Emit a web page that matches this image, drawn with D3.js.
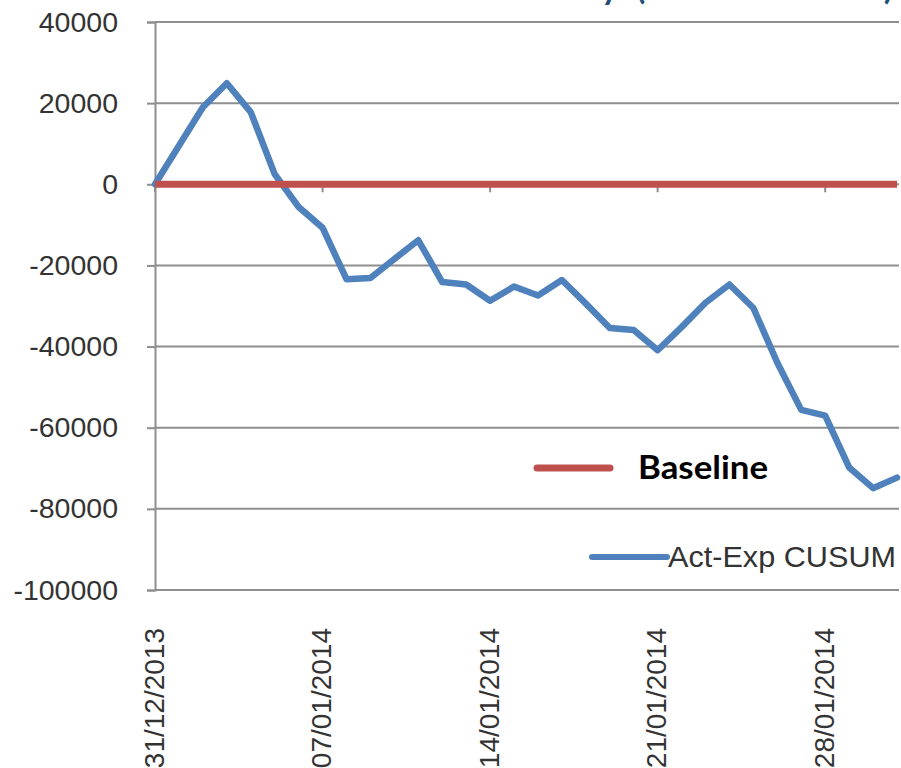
<!DOCTYPE html>
<html>
<head>
<meta charset="utf-8">
<script src="https://cdnjs.cloudflare.com/ajax/libs/d3/7.8.5/d3.min.js"></script>
<style>
  html, body { margin: 0; padding: 0; background: #ffffff; }
  svg { display: block; }
</style>
</head>
<body>
<svg id="chart" width="901" height="768"></svg>
<script>
// Daily categories, 31 Dec 2013 to 31 Jan 2014
const dates = [
  "31/12/2013", "01/01/2014", "02/01/2014", "03/01/2014", "04/01/2014", "05/01/2014",
  "06/01/2014", "07/01/2014", "08/01/2014", "09/01/2014", "10/01/2014", "11/01/2014",
  "12/01/2014", "13/01/2014", "14/01/2014", "15/01/2014", "16/01/2014", "17/01/2014",
  "18/01/2014", "19/01/2014", "20/01/2014", "21/01/2014", "22/01/2014", "23/01/2014",
  "24/01/2014", "25/01/2014", "26/01/2014", "27/01/2014", "28/01/2014", "29/01/2014",
  "30/01/2014", "31/01/2014"
];

// Cumulative sum of (actual - expected)
const cusum = [
  0, 9500, 19000, 24900, 17800, 2500, -5600, -10700, -23400, -23100, -18400, -13800,
  -24100, -24700, -28700, -25200, -27400, -23600, -29400, -35400, -35900, -40900,
  -35200, -29200, -24700, -30500, -44000, -55600, -57000, -69800, -74900, -72300
];

// Baseline series (zero every day)
const baseline = dates.map(() => 0);

const yTicks = [40000, 20000, 0, -20000, -40000, -60000, -80000, -100000];
const xTickLabels = ["31/12/2013", "07/01/2014", "14/01/2014", "21/01/2014", "28/01/2014"];

const seriesNames = ["Baseline", "Act-Exp CUSUM"];
const titleText = "CUSUM Chart \u2013 Electricity\u2002(kWh Difference)";

const svg = d3.select("#chart");

const plotLeft = 155, plotRight = 897, plotTop = 22, plotBottom = 590;

const x = d3.scalePoint().domain(dates).range([plotLeft, plotRight]);
const y = d3.scaleLinear().domain([-100000, 40000]).range([plotBottom, plotTop]);

const gridColor = "#8e8e8e";
const textColor = "#333333";

// Title (runs off the top edge)
svg.append("text")
  .attr("x", 893)
  .attr("y", -1)
  .attr("text-anchor", "end")
  .attr("font-family", "Lato, 'Open Sans', sans-serif")
  .attr("font-weight", "bold")
  .attr("font-size", 34)
  .attr("fill", "#1f4e79")
  .text(titleText);

// Horizontal gridlines
svg.append("g")
  .selectAll("line")
  .data(yTicks)
  .join("line")
  .attr("x1", plotLeft)
  .attr("x2", plotRight + 2)
  .attr("y1", d => y(d))
  .attr("y2", d => y(d))
  .attr("stroke", gridColor)
  .attr("stroke-width", 2);

// Vertical value axis with outward ticks
const yAxis = d3.axisLeft(y)
  .tickValues(yTicks)
  .tickSize(8)
  .tickPadding(29)
  .tickFormat(d => String(d));

const gy = svg.append("g")
  .attr("transform", `translate(${plotLeft},0)`)
  .call(yAxis);
gy.select(".domain").attr("stroke", gridColor).attr("stroke-width", 2);
gy.selectAll(".tick line").attr("stroke", gridColor).attr("stroke-width", 2);
gy.selectAll(".tick text")
  .attr("font-family", "'Liberation Sans', Arial, sans-serif")
  .attr("font-size", 28.5)
  .attr("fill", textColor);

// Category axis crossing at zero: tick marks every 7 days
const xTickValues = dates.filter(d => xTickLabels.includes(d));
svg.append("g")
  .selectAll("line")
  .data(xTickValues)
  .join("line")
  .attr("x1", d => x(d))
  .attr("x2", d => x(d))
  .attr("y1", y(0))
  .attr("y2", y(0) + 8)
  .attr("stroke", gridColor)
  .attr("stroke-width", 2);

// Category labels, rotated, placed below the plot
svg.append("g")
  .selectAll("text")
  .data(xTickValues)
  .join("text")
  .attr("transform", d => `translate(${x(d) - 1},628) rotate(-90)`)
  .attr("text-anchor", "end")
  .attr("dominant-baseline", "central")
  .attr("font-family", "'Liberation Sans', Arial, sans-serif")
  .attr("font-size", 28)
  .attr("fill", textColor)
  .text(d => d);

const line = d3.line()
  .x((d, i) => x(dates[i]))
  .y(d => y(d));

// CUSUM series
svg.append("path")
  .datum(cusum)
  .attr("fill", "none")
  .attr("stroke", "#4f81bd")
  .attr("stroke-width", 6.5)
  .attr("stroke-linejoin", "round")
  .attr("stroke-linecap", "round")
  .attr("d", line);

// Baseline series
svg.append("path")
  .datum(baseline)
  .attr("fill", "none")
  .attr("stroke", "#c0504d")
  .attr("stroke-width", 7)
  .attr("d", line);

// Legend
const legend = svg.append("g");
legend.append("line")
  .attr("x1", 537).attr("x2", 610)
  .attr("y1", 468).attr("y2", 468)
  .attr("stroke", "#c0504d")
  .attr("stroke-width", 7)
  .attr("stroke-linecap", "round");
legend.append("text")
  .attr("x", 638).attr("y", 479)
  .attr("font-family", "Lato, 'Open Sans', sans-serif")
  .attr("font-weight", "bold")
  .attr("font-size", 32)
  .attr("textLength", 130)
  .attr("lengthAdjust", "spacingAndGlyphs")
  .attr("fill", "#000000")
  .text(seriesNames[0]);

legend.append("line")
  .attr("x1", 592).attr("x2", 667)
  .attr("y1", 557).attr("y2", 557)
  .attr("stroke", "#4f81bd")
  .attr("stroke-width", 6)
  .attr("stroke-linecap", "round");
legend.append("text")
  .attr("x", 668).attr("y", 567)
  .attr("font-family", "'Liberation Sans', Arial, sans-serif")
  .attr("font-size", 30)
  .attr("textLength", 228)
  .attr("lengthAdjust", "spacingAndGlyphs")
  .attr("fill", textColor)
  .text(seriesNames[1]);
</script>
</body>
</html>
